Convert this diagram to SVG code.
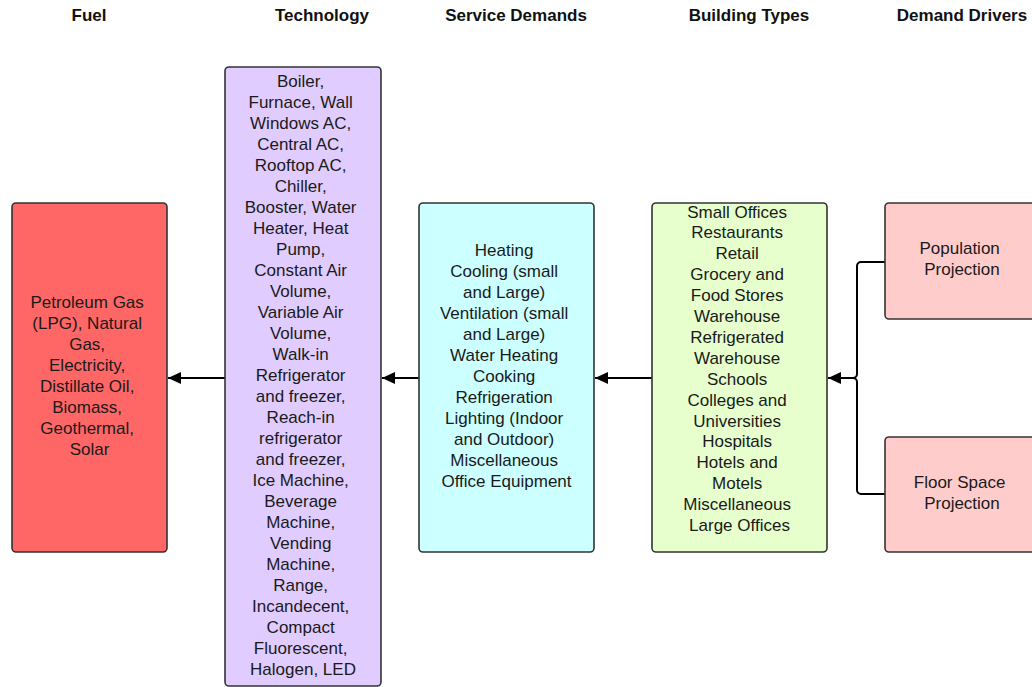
<svg xmlns="http://www.w3.org/2000/svg" width="1032" height="687" viewBox="0 0 1032 687">
<defs>
<marker id="arr" markerWidth="14" markerHeight="12" refX="13" refY="6" orient="auto" markerUnits="userSpaceOnUse">
<path d="M0,0 L13,6 L0,12 z" fill="#000"/>
</marker>
<style>
.box{stroke:#333;stroke-width:1.6}
.t{font-family:"Liberation Sans",Arial,sans-serif;font-size:17px;fill:#1a1a1a;text-anchor:middle}
.h{font-family:"Liberation Sans",Arial,sans-serif;font-size:17px;font-weight:bold;fill:#111;text-anchor:middle}
.c{fill:none;stroke:#000;stroke-width:2}
</style>
</defs>
<rect width="1032" height="687" fill="#fff"/>
<g id="headers">
<text class="h" x="89" y="21">Fuel</text>
<text class="h" x="322" y="21">Technology</text>
<text class="h" x="516" y="21">Service Demands</text>
<text class="h" x="749" y="21">Building Types</text>
<text class="h" x="962" y="21">Demand Drivers</text>
</g>
<g id="connectors">
<path class="c" d="M225,378 H168" marker-end="url(#arr)"/>
<path class="c" d="M419,378 H382" marker-end="url(#arr)"/>
<path class="c" d="M652,378 H595" marker-end="url(#arr)"/>
<path class="c" d="M885,262 H861 A4,4 0 0 0 857,266 V374 A4,4 0 0 1 853,378 H828" marker-end="url(#arr)"/>
<path class="c" d="M885,494 H861 A4,4 0 0 1 857,490 V382 A4,4 0 0 0 853,378"/>
</g>
<g id="fuel">
<rect class="box" x="12" y="203" width="155" height="349" rx="4" fill="#ff6666"/>
<text class="t" x="89.5" y="308">
<tspan x="89.5">Petroleum Gas</tspan>
<tspan x="89.5" dy="21">(LPG), Natural</tspan>
<tspan x="89.5" dy="21">Gas,</tspan>
<tspan x="89.5" dy="21">Electricity,</tspan>
<tspan x="89.5" dy="21">Distillate Oil,</tspan>
<tspan x="89.5" dy="21">Biomass,</tspan>
<tspan x="89.5" dy="21">Geothermal,</tspan>
<tspan x="89.5" dy="21">Solar</tspan>
</text>
</g>
<g id="technology">
<rect class="box" x="225" y="67" width="156" height="619" rx="4" fill="#e0ccff"/>
<text class="t" x="303" y="87">
<tspan x="303">Boiler,</tspan>
<tspan x="303" dy="21">Furnace, Wall</tspan>
<tspan x="303" dy="21">Windows AC,</tspan>
<tspan x="303" dy="21">Central AC,</tspan>
<tspan x="303" dy="21">Rooftop AC,</tspan>
<tspan x="303" dy="21">Chiller,</tspan>
<tspan x="303" dy="21">Booster, Water</tspan>
<tspan x="303" dy="21">Heater, Heat</tspan>
<tspan x="303" dy="21">Pump,</tspan>
<tspan x="303" dy="21">Constant Air</tspan>
<tspan x="303" dy="21">Volume,</tspan>
<tspan x="303" dy="21">Variable Air</tspan>
<tspan x="303" dy="21">Volume,</tspan>
<tspan x="303" dy="21">Walk-in</tspan>
<tspan x="303" dy="21">Refrigerator</tspan>
<tspan x="303" dy="21">and freezer,</tspan>
<tspan x="303" dy="21">Reach-in</tspan>
<tspan x="303" dy="21">refrigerator</tspan>
<tspan x="303" dy="21">and freezer,</tspan>
<tspan x="303" dy="21">Ice Machine,</tspan>
<tspan x="303" dy="21">Beverage</tspan>
<tspan x="303" dy="21">Machine,</tspan>
<tspan x="303" dy="21">Vending</tspan>
<tspan x="303" dy="21">Machine,</tspan>
<tspan x="303" dy="21">Range,</tspan>
<tspan x="303" dy="21">Incandecent,</tspan>
<tspan x="303" dy="21">Compact</tspan>
<tspan x="303" dy="21">Fluorescent,</tspan>
<tspan x="303" dy="21">Halogen, LED</tspan>
</text>
</g>
<g id="service">
<rect class="box" x="419" y="203" width="175" height="349" rx="4" fill="#ccffff"/>
<text class="t" x="506.5" y="256">
<tspan x="506.5">Heating</tspan>
<tspan x="506.5" dy="21">Cooling (small</tspan>
<tspan x="506.5" dy="21">and Large)</tspan>
<tspan x="506.5" dy="21">Ventilation (small</tspan>
<tspan x="506.5" dy="21">and Large)</tspan>
<tspan x="506.5" dy="21">Water Heating</tspan>
<tspan x="506.5" dy="21">Cooking</tspan>
<tspan x="506.5" dy="21">Refrigeration</tspan>
<tspan x="506.5" dy="21">Lighting (Indoor</tspan>
<tspan x="506.5" dy="21">and Outdoor)</tspan>
<tspan x="506.5" dy="21">Miscellaneous</tspan>
<tspan x="506.5" dy="21">Office Equipment</tspan>
</text>
</g>
<g id="building">
<rect class="box" x="652" y="203" width="175" height="349" rx="4" fill="#e6ffcc"/>
<text class="t" x="739.5" y="217.5">
<tspan x="739.5">Small Offices</tspan>
<tspan x="739.5" dy="20.9">Restaurants</tspan>
<tspan x="739.5" dy="20.9">Retail</tspan>
<tspan x="739.5" dy="20.9">Grocery and</tspan>
<tspan x="739.5" dy="20.9">Food Stores</tspan>
<tspan x="739.5" dy="20.9">Warehouse</tspan>
<tspan x="739.5" dy="20.9">Refrigerated</tspan>
<tspan x="739.5" dy="20.9">Warehouse</tspan>
<tspan x="739.5" dy="20.9">Schools</tspan>
<tspan x="739.5" dy="20.9">Colleges and</tspan>
<tspan x="739.5" dy="20.9">Universities</tspan>
<tspan x="739.5" dy="20.9">Hospitals</tspan>
<tspan x="739.5" dy="20.9">Hotels and</tspan>
<tspan x="739.5" dy="20.9">Motels</tspan>
<tspan x="739.5" dy="20.9">Miscellaneous</tspan>
<tspan x="739.5" dy="20.9">Large Offices</tspan>
</text>
</g>
<g id="population">
<rect class="box" x="885" y="203" width="160" height="116" rx="4" fill="#ffcccc"/>
<text class="t" x="962" y="254">
<tspan x="962">Population</tspan>
<tspan x="962" dy="21">Projection</tspan>
</text>
</g>
<g id="floorspace">
<rect class="box" x="885" y="437" width="160" height="115" rx="4" fill="#ffcccc"/>
<text class="t" x="962" y="487.5">
<tspan x="962">Floor Space</tspan>
<tspan x="962" dy="21">Projection</tspan>
</text>
</g>
</svg>
